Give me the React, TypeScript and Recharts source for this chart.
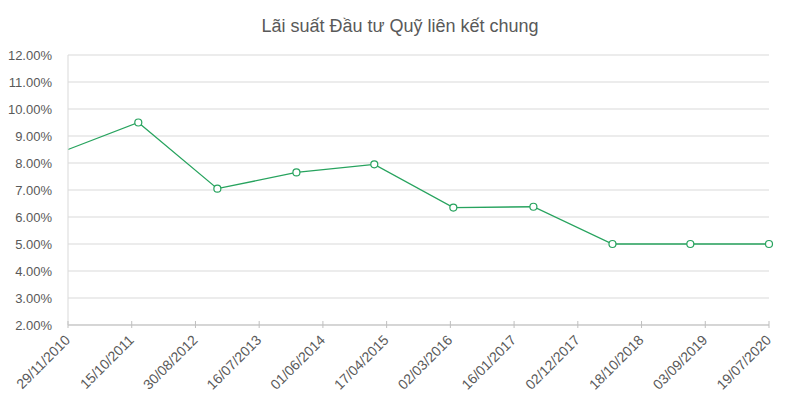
import { CartesianGrid, Line, LineChart, XAxis, YAxis } from 'recharts'

// dd/mm/yyyy dates
const pointDates = [
  '29/11/2010',
  '17/11/2011',
  '18/12/2012',
  '19/01/2014',
  '14/02/2015',
  '17/03/2016',
  '23/04/2017',
  '25/05/2018',
  '20/06/2019',
  '19/07/2020',
]
const rates = [0.085, 0.095, 0.0705, 0.0765, 0.0795, 0.0635, 0.0638, 0.05, 0.05, 0.05]

const xTickLabels = [
  '29/11/2010',
  '15/10/2011',
  '30/08/2012',
  '16/07/2013',
  '01/06/2014',
  '17/04/2015',
  '02/03/2016',
  '16/01/2017',
  '02/12/2017',
  '18/10/2018',
  '03/09/2019',
  '19/07/2020',
]
const yTicks = [0.02, 0.03, 0.04, 0.05, 0.06, 0.07, 0.08, 0.09, 0.1, 0.11, 0.12]

const title = 'Lãi suất Đầu tư Quỹ liên kết chung'

const toTime = (s: string) => {
  const [d, m, y] = s.split('/').map(Number)
  return Date.UTC(y, m - 1, d)
}
const fmtDate = (t: number) => {
  const d = new Date(t)
  const p = (n: number) => String(n).padStart(2, '0')
  return `${p(d.getUTCDate())}/${p(d.getUTCMonth() + 1)}/${d.getUTCFullYear()}`
}

const data = pointDates.map((s, i) => ({ t: toTime(s), rate: rates[i] }))
const xTicks = xTickLabels.map(toTime)

const font = '"Liberation Sans", Arial, sans-serif'
const green = '#27a35e'
const grid = '#d9d9d9'

function DateTick(props: any) {
  const { x, y, payload } = props
  const ax = x + 3
  const ay = y + 16
  return (
    <g>
      <line x1={x} x2={x} y1={y - 4} y2={y + 3} stroke="#bfbfbf" />
      <text
        x={ax}
        y={ay}
        textAnchor="end"
        fill="#595959"
        fontSize={14}
        fontFamily={font}
        transform={`rotate(-45 ${ax} ${ay})`}
      >
        {fmtDate(payload.value)}
      </text>
    </g>
  )
}

function Dot(props: any) {
  const { cx, cy, index } = props
  if (index === 0) return <g key={`d${index}`} />
  return <circle key={`d${index}`} cx={cx} cy={cy} r={3.5} fill="#fff" stroke={green} strokeWidth={1.2} />
}

export default function App() {
  return (
    <div style={{ position: 'relative', width: 800, height: 408, background: '#fff', fontFamily: font }}>
      <style>{'body{margin:0}'}</style>
      <div
        style={{
          position: 'absolute',
          top: 16,
          left: 0,
          width: 800,
          textAlign: 'center',
          fontSize: 18,
          lineHeight: '20px',
          color: '#595959',
        }}
      >
        {title}
      </div>
      <LineChart width={800} height={408} data={data} margin={{ top: 55, right: 31, bottom: 0, left: 0 }}>
        <CartesianGrid horizontal vertical={false} stroke={grid} />
        <XAxis
          dataKey="t"
          type="number"
          domain={[xTicks[0], xTicks[xTicks.length - 1]]}
          ticks={xTicks}
          interval={0}
          height={83}
          axisLine={{ stroke: '#bfbfbf' }}
          tickLine={false}
          tickSize={0}
          tickMargin={0}
          tick={<DateTick />}
        />
        <YAxis
          domain={[0.02, 0.12]}
          ticks={yTicks}
          width={68}
          axisLine={{ stroke: grid }}
          tickLine={false}
          tickMargin={10}
          tick={{ fill: '#595959', fontSize: 13, fontFamily: font }}
          tickFormatter={(v: number) => `${(v * 100).toFixed(2)}%`}
        />
        <Line
          type="linear"
          dataKey="rate"
          stroke={green}
          strokeWidth={1.3}
          dot={Dot}
          activeDot={false}
          isAnimationActive={false}
        />
      </LineChart>
    </div>
  )
}
